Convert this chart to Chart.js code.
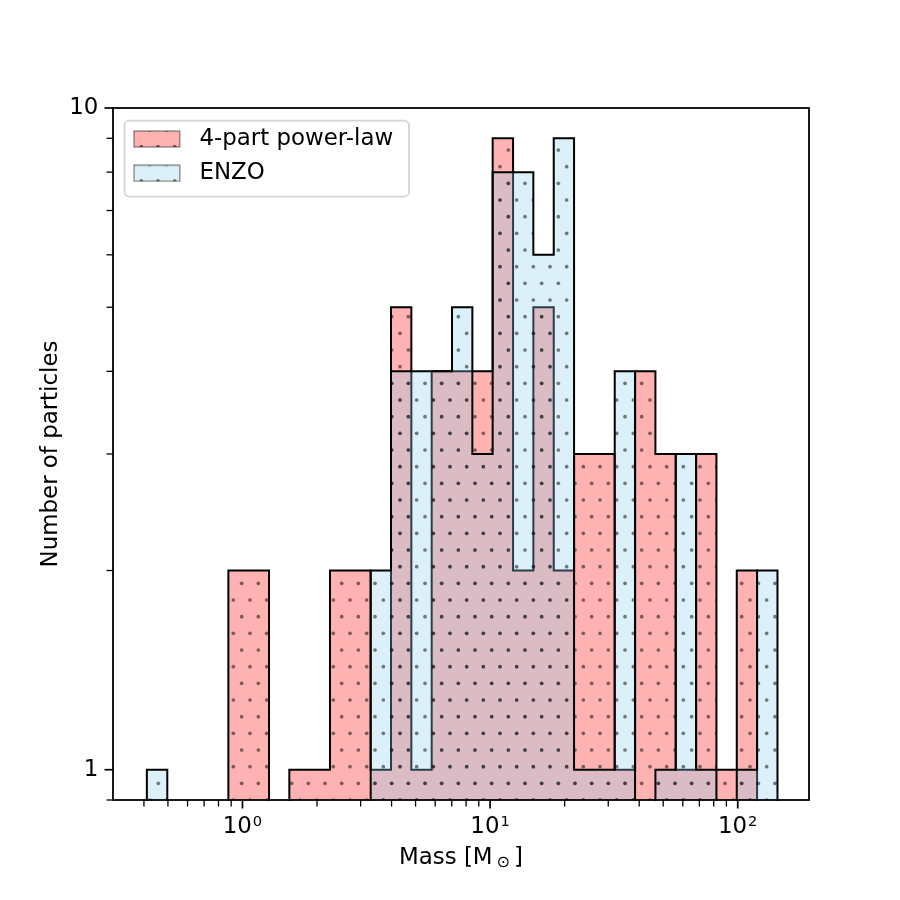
<!DOCTYPE html>
<html lang="en">
<head>
  <meta charset="UTF-8">
  <title>Particle mass histogram</title>
  <script src="https://cdn.jsdelivr.net/npm/chart.js@4.4.1/dist/chart.umd.min.js"></script>
  <style>
    html, body { margin: 0; padding: 0; background: #fff; }
    #wrap { width: 900px; height: 900px; }
  </style>
</head>
<body>
  <div id="wrap"><canvas id="massHist" width="900" height="900"></canvas></div>

  <script>
    // log-spaced bin edges in solar masses, shared by both histograms
    const binEdges = [0.411, 0.497, 0.600, 0.725, 0.877, 1.059, 1.280, 1.546, 1.868, 2.256, 2.726,
      3.294, 3.979, 4.808, 5.809, 7.018, 8.479, 10.24, 12.38, 14.95, 18.07, 21.83,
      26.37, 31.86, 38.50, 46.51, 56.20, 67.90, 82.03, 99.11, 119.7, 144.7];

    // particles per bin
    const powerLawCounts = [0, 0, 0, 0, 2, 2, 0, 1, 1, 2, 2, 1, 5, 1, 4, 4, 4, 9, 2, 5, 2, 3, 3, 1, 4, 3, 1, 3, 1, 2, 0];
    const enzoCounts = [1, 0, 0, 0, 0, 0, 0, 0, 0, 0, 0, 2, 4, 4, 4, 5, 3, 8, 8, 6, 9, 1, 1, 4, 0, 1, 3, 1, 0, 1, 2];
    const seriesNames = ['4-part power-law', 'ENZO'];

    // axis ticks
    const xMajorTicks = [1, 10, 100];
    const xTickBase = '10';
    const xTickExponents = ['0', '1', '2'];
    const xMinorTicks = [0.4, 0.5, 0.6, 0.7, 0.8, 0.9, 2, 3, 4, 5, 6, 7, 8, 9, 20, 30, 40, 50, 60, 70, 80, 90];
    const yMajorTicks = [1, 10];
    const yMajorLabels = ['1', '10'];
    const yMinorTicks = [0.9, 2, 3, 4, 5, 6, 7, 8, 9];
    const xAxisTitle = ['Mass [M', '⊙', ']'];
    const yAxisTitle = 'Number of particles';

    // a log axis can't show 0, so empty bins drop below the floor and get clipped
    const emptyBinLevel = 0.5;

    const FONT = "'DejaVu Sans', sans-serif";
    const FS = 22.9;
    Chart.defaults.font.family = FONT;
    Chart.defaults.color = '#000';

    // outline of a stepfilled histogram: up at the first edge, across each bin, down at the last edge
    function stepPoints(counts) {
      const level = c => (c > 0 ? c : emptyBinLevel);
      const pts = [{ x: binEdges[0], y: emptyBinLevel }];
      counts.forEach((c, i) => pts.push({ x: binEdges[i], y: level(c) }));
      pts.push({ x: binEdges[counts.length], y: emptyBinLevel });
      return pts;
    }

    // matplotlib '.' hatch: staggered dot lattice, 16.7px apart
    function hatchTile(fill) {
      const tile = document.createElement('canvas');
      tile.width = 50;
      tile.height = 100;
      const c = tile.getContext('2d');
      c.fillStyle = fill;
      c.fillRect(0, 0, 50, 100);
      c.fillStyle = 'rgba(0,0,0,0.5)';
      for (let j = 0; j <= 6; j++) {
        for (let m = j % 2; m <= 6; m += 2) {
          c.beginPath();
          c.arc(m * 50 / 6, j * 100 / 6, 1.85, 0, Math.PI * 2);
          c.fill();
        }
      }
      return tile;
    }

    const patternCtx = document.createElement('canvas').getContext('2d');
    function hatch(fill) {
      return patternCtx.createPattern(hatchTile(fill), 'repeat');
    }

    // legend handle drawn into a small canvas (extra room on the right = text gap)
    function legendSwatch(fill) {
      const cv = document.createElement('canvas');
      cv.width = 55;
      cv.height = 18;
      const c = cv.getContext('2d');
      c.fillStyle = c.createPattern(hatchTile(fill), 'repeat');
      c.fillRect(1, 1, 45.8, 16);
      c.strokeStyle = 'rgba(0,0,0,0.4)';
      c.lineWidth = 1.5;
      c.strokeRect(1, 1, 45.8, 16);
      return cv;
    }

    const fills = ['rgba(255,0,0,0.3)', 'rgba(135,206,235,0.3)'];
    const swatches = fills.map(legendSwatch);

    // legend sits inside the axes, top-left
    const legendPlacement = {
      id: 'legendPlacement',
      afterLayout(chart) {
        const lg = chart.legend, ca = chart.chartArea;
        lg.left = ca.left + 8.6;
        lg.top = ca.top + 8.15;
        lg.right = ca.right;
        lg.bottom = ca.bottom;
      },
      beforeDraw(chart) {
        const { ctx, chartArea: ca } = chart;
        const x0 = ca.left + 11.5, y0 = ca.top + 12.7;
        const w = 284.5, h = 76;
        ctx.save();
        ctx.beginPath();
        ctx.roundRect(x0, y0, w, h, 5);
        ctx.fillStyle = 'rgba(255,255,255,0.8)';
        ctx.fill();
        ctx.strokeStyle = '#d4d4d4';
        ctx.lineWidth = 1.8;
        ctx.stroke();
        ctx.restore();
      }
    };

    // spines, tick marks, x tick labels with superscripts and the x title with its subscript
    const axesDecor = {
      id: 'axesDecor',
      afterDraw(chart) {
        const { ctx, chartArea: ca, scales } = chart;
        const xs = scales.x, ys = scales.y;
        ctx.save();
        ctx.strokeStyle = '#000';
        ctx.lineCap = 'butt';

        function xTicks(vals, len, w) {
          ctx.lineWidth = w;
          vals.forEach(v => {
            const px = xs.getPixelForValue(v);
            ctx.beginPath();
            ctx.moveTo(px, ca.bottom);
            ctx.lineTo(px, ca.bottom + len);
            ctx.stroke();
          });
        }
        function yTicks(vals, len, w) {
          ctx.lineWidth = w;
          vals.forEach(v => {
            const py = ys.getPixelForValue(v);
            ctx.beginPath();
            ctx.moveTo(ca.left, py);
            ctx.lineTo(ca.left - len, py);
            ctx.stroke();
          });
        }
        xTicks(xMinorTicks, 6.5, 1.3);
        xTicks(xMajorTicks, 8.5, 1.7);
        yTicks(yMinorTicks, 6.5, 1.3);
        yTicks(yMajorTicks, 8.5, 1.7);

        ctx.lineWidth = 1.8;
        ctx.strokeRect(ca.left, ca.top, ca.right - ca.left, ca.bottom - ca.top);

        const big = FS + 'px ' + FONT;
        ctx.fillStyle = '#000';
        ctx.textBaseline = 'alphabetic';
        ctx.textAlign = 'left';

        // mixed-size runs laid out left to right, centred on cx
        function runs(parts, cx, base) {
          let total = 0;
          parts.forEach(p => { ctx.font = p.f; p.w = ctx.measureText(p.t).width; total += p.w + p.gap; });
          let x = cx - total / 2;
          parts.forEach(p => {
            x += p.gap;
            ctx.font = p.f;
            ctx.fillText(p.t, x, base + p.dy);
            x += p.w;
          });
        }

        // 10^k labels under the major ticks
        const sup = (FS * 0.64).toFixed(1) + 'px ' + FONT;
        xMajorTicks.forEach((v, i) => {
          runs([
            { t: xTickBase, f: big, dy: 0, gap: 0 },
            { t: xTickExponents[i], f: sup, dy: -7.6, gap: 1 }
          ], xs.getPixelForValue(v), ca.bottom + 33.3);
        });

        // "Mass [M⊙]" with the sun symbol as a subscript
        const small = (FS * 0.7).toFixed(1) + 'px ' + FONT;
        runs([
          { t: xAxisTitle[0], f: big, dy: 0, gap: 0 },
          { t: xAxisTitle[1], f: small, dy: 2.5, gap: 4 },
          { t: xAxisTitle[2], f: big, dy: 0, gap: 4 }
        ], (ca.left + ca.right) / 2, ca.bottom + 64);
        ctx.restore();
      }
    };

    const ctx = document.getElementById('massHist').getContext('2d');
    new Chart(ctx, {
      type: 'line',
      data: {
        datasets: [
          {
            label: seriesNames[0],
            data: stepPoints(powerLawCounts),
            backgroundColor: hatch(fills[0]),
            order: 1
          },
          {
            label: seriesNames[1],
            data: stepPoints(enzoCounts),
            backgroundColor: hatch(fills[1]),
            order: 0
          }
        ]
      },
      options: {
        responsive: false,
        devicePixelRatio: 1,
        animation: false,
        events: [],
        layout: { padding: { top: 108, right: 91, left: 0, bottom: 0 } },
        datasets: {
          line: {
            stepped: 'before',
            fill: 'start',
            borderColor: '#000',
            borderWidth: 2,
            borderJoinStyle: 'miter',
            pointRadius: 0,
            pointHoverRadius: 0,
            clip: 1
          }
        },
        scales: {
          x: {
            type: 'logarithmic',
            min: 0.3067,
            max: 194.0,
            afterFit: (scale) => { scale.height = 100; },
            afterBuildTicks: (scale) => { scale.ticks = xMajorTicks.map(v => ({ value: v })); },
            ticks: { display: false },
            grid: { display: false, drawTicks: false },
            border: { display: false }
          },
          y: {
            type: 'logarithmic',
            min: 0.9,
            max: 10,
            afterFit: (scale) => { scale.width = 113; },
            afterBuildTicks: (scale) => { scale.ticks = yMajorTicks.map(v => ({ value: v })); },
            ticks: {
              autoSkip: false,
              padding: 14.7,
              font: { size: FS },
              color: '#000',
              callback: (v) => yMajorLabels[yMajorTicks.indexOf(v)]
            },
            grid: { display: false, drawTicks: false },
            border: { display: false },
            title: {
              display: true,
              text: yAxisTitle,
              font: { size: FS },
              color: '#000',
              padding: { top: 37, bottom: 0 }
            }
          }
        },
        plugins: {
          tooltip: { enabled: false },
          legend: {
            position: 'chartArea',
            fullSize: false,
            align: 'start',
            labels: {
              usePointStyle: true,
              pointStyleWidth: 55,
              padding: 11.4,
              font: { size: FS },
              color: '#000',
              generateLabels: () => seriesNames.map((name, i) => ({
                text: name,
                pointStyle: swatches[i],
                fillStyle: 'rgba(0,0,0,0)',
                strokeStyle: 'rgba(0,0,0,0)',
                lineWidth: 0,
                fontColor: '#000',
                hidden: false,
                datasetIndex: i
              }))
            }
          }
        }
      },
      plugins: [legendPlacement, axesDecor]
    });
  </script>
</body>
</html>
